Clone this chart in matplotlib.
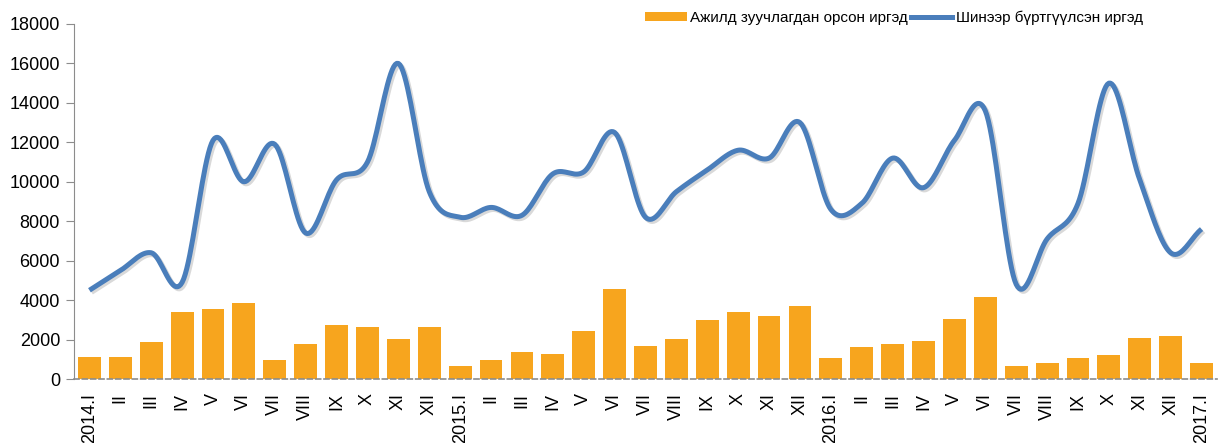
import numpy as np
import matplotlib
matplotlib.use("Agg")
import matplotlib.pyplot as plt
import matplotlib.patheffects as pe
from matplotlib.lines import Line2D
from matplotlib.patches import Patch

plt.rcParams['font.family'] = ['Liberation Sans', 'DejaVu Sans']

months = ["I", "II", "III", "IV", "V", "VI", "VII", "VIII", "IX", "X", "XI", "XII"]
labels = (["2014.I"] + months[1:] + ["2015.I"] + months[1:]
          + ["2016.I"] + months[1:] + ["2017.I"])

placed = [1100, 1100, 1900, 3400, 3550, 3850, 950, 1800, 2750, 2650, 2050, 2650,
          650, 950, 1350, 1250, 2450, 4550, 1650, 2050, 3000, 3400, 3200, 3700,
          1050, 1600, 1800, 1950, 3050, 4150, 650, 800, 1050, 1200, 2100, 2200,
          800]
registered = [4500, 5500, 6400, 4900, 12100, 10000, 11900, 7400, 10100, 11000, 16000, 9500,
              8200, 8700, 8300, 10400, 10500, 12500, 8200, 9500, 10600, 11600, 11200, 13000,
              8600, 8900, 11200, 9700, 12100, 13600, 4800, 7100, 8900, 15000, 10100, 6400,
              7600]

bar_color = "#f7a51e"
line_color = "#4a7ebb"


def smooth(x, y, n=20):
    # Catmull-Rom spline through the points, like Excel's smoothed line
    x = np.asarray(x, float)
    y = np.asarray(y, float)
    px = np.concatenate([[2 * x[0] - x[1]], x, [2 * x[-1] - x[-2]]])
    py = np.concatenate([[2 * y[0] - y[1]], y, [2 * y[-1] - y[-2]]])
    xs, ys = [], []
    t = np.linspace(0, 1, n, endpoint=False)
    for i in range(1, len(px) - 2):
        for p, out in ((px, xs), (py, ys)):
            p0, p1, p2, p3 = p[i - 1], p[i], p[i + 1], p[i + 2]
            out.extend(0.5 * ((2 * p1) + (-p0 + p2) * t
                              + (2 * p0 - 5 * p1 + 4 * p2 - p3) * t ** 2
                              + (-p0 + 3 * p1 - 3 * p2 + p3) * t ** 3))
    xs.append(x[-1])
    ys.append(y[-1])
    return np.array(xs), np.array(ys)


fig = plt.figure(figsize=(12.18, 4.43), dpi=100)
ax = fig.add_axes([74 / 1218, 1 - 379 / 443, (1217 - 74) / 1218, 355 / 443])

x = np.arange(len(labels))
ax.bar(x, placed, width=0.74, color=bar_color, zorder=2)

sx, sy = smooth(x, registered)
ax.plot(sx, sy, color=line_color, lw=3.6, solid_capstyle="butt", zorder=3,
        path_effects=[pe.SimpleLineShadow(offset=(1.5, -1.5), alpha=0.15, shadow_color="black"),
                      pe.Normal()])

ax.set_xlim(-0.5, len(labels) - 0.5)
ax.set_ylim(0, 18000)
ax.set_yticks(np.arange(0, 18001, 2000))
ax.set_xticks(x)
ax.set_xticklabels(labels, rotation=90, va="top", ha="center")

for s in ["top", "right"]:
    ax.spines[s].set_visible(False)
ax.spines["left"].set_color("#8c8c8c")
ax.spines["bottom"].set_color("#8c8c8c")
ax.spines["bottom"].set_linestyle((0, (3, 2)))
ax.spines["bottom"].set_linewidth(1.2)
ax.tick_params(axis="y", length=6, color="#8c8c8c", labelsize=13, pad=4)
ax.tick_params(axis="x", length=0, labelsize=13, pad=10)

handles = [Patch(facecolor=bar_color, edgecolor="none"),
           Line2D([], [], color=line_color, lw=3.6)]
fig.legend(handles, ["Ажилд зуучлагдан орсон иргэд", "Шинээр бүртгүүлсэн иргэд"],
           loc="center", bbox_to_anchor=(894 / 1218, 1 - 18 / 443), ncol=2,
           frameon=False, fontsize=11, handlelength=2.7, handleheight=0.55,
           handletextpad=0.25, columnspacing=0.15, borderaxespad=0)

fig.savefig("out.png", dpi=100)
